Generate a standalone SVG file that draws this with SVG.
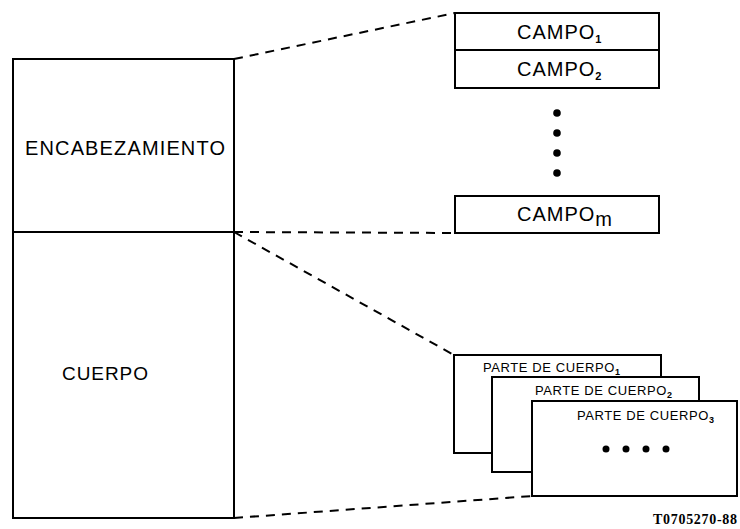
<svg xmlns="http://www.w3.org/2000/svg" width="740" height="529" viewBox="0 0 740 529">
<style>
.box{fill:#fff;stroke:#000;stroke-width:2}
.dash{fill:none;stroke:#000;stroke-width:2;stroke-dasharray:9,7}
.t{font-family:"Liberation Sans",Arial,sans-serif;fill:#000}
.big{font-size:20px;letter-spacing:1px}
.sm{font-size:13px;letter-spacing:0.6px}
.sub{font-size:11px;font-weight:bold}
.subs{font-size:9px;font-weight:bold}
.id{font-family:"Liberation Serif","Times New Roman",serif;font-size:14px;font-weight:bold;fill:#000}
</style>
<rect width="740" height="529" fill="#fff"/>
<g id="connectors">
<line class="dash" x1="234" y1="59" x2="455" y2="13"/>
<line class="dash" x1="234" y1="232" x2="455" y2="233"/>
<line class="dash" x1="234" y1="232" x2="454" y2="355"/>
<line class="dash" x1="234" y1="518" x2="532" y2="496"/>
</g>
<g id="mensaje">
<rect class="box" x="13" y="59" width="221" height="459"/>
<line x1="13" y1="232" x2="234" y2="232" stroke="#000" stroke-width="2"/>
</g>
<g id="encabezamiento">
<text class="t" font-size="20" x="25" y="155" textLength="200" lengthAdjust="spacing">ENCABEZAMIENTO</text>
</g>
<g id="cuerpo">
<text class="t" font-size="19" x="62" y="380" textLength="86" lengthAdjust="spacing">CUERPO</text>
</g>
<g id="campo1">
<rect class="box" x="455" y="13" width="204" height="37"/>
<text class="t big" x="517" y="39">CAMPO<tspan class="sub" dy="4">1</tspan></text>
</g>
<g id="campo2">
<rect class="box" x="455" y="50" width="204" height="38"/>
<text class="t big" x="517" y="76">CAMPO<tspan class="sub" dy="4">2</tspan></text>
</g>
<g id="puntos">
<circle cx="557" cy="113" r="3.8"/>
<circle cx="557" cy="133" r="3.8"/>
<circle cx="557" cy="153" r="3.8"/>
<circle cx="557" cy="173" r="3.8"/>
</g>
<g id="campom">
<rect class="box" x="455" y="196" width="204" height="37"/>
<text class="t big" x="517" y="221">CAMPO<tspan dy="5">m</tspan></text>
</g>
<g id="parte1">
<rect class="box" x="454" y="355" width="207" height="98"/>
<text class="t sm" x="483" y="372">PARTE DE CUERPO<tspan class="subs" dy="3">1</tspan></text>
</g>
<g id="parte2">
<rect class="box" x="492" y="377" width="207" height="95"/>
<text class="t sm" x="535" y="395">PARTE DE CUERPO<tspan class="subs" dy="3">2</tspan></text>
</g>
<g id="parte3">
<rect class="box" x="532" y="401" width="205" height="95"/>
<text class="t sm" x="577" y="420">PARTE DE CUERPO<tspan class="subs" dy="3">3</tspan></text>
<circle cx="606" cy="449" r="3.5"/>
<circle cx="626" cy="449" r="3.5"/>
<circle cx="646" cy="449" r="3.5"/>
<circle cx="666" cy="449" r="3.5"/>
</g>
<text class="id" x="653" y="524" textLength="84" lengthAdjust="spacing">T0705270-88</text>
</svg>
